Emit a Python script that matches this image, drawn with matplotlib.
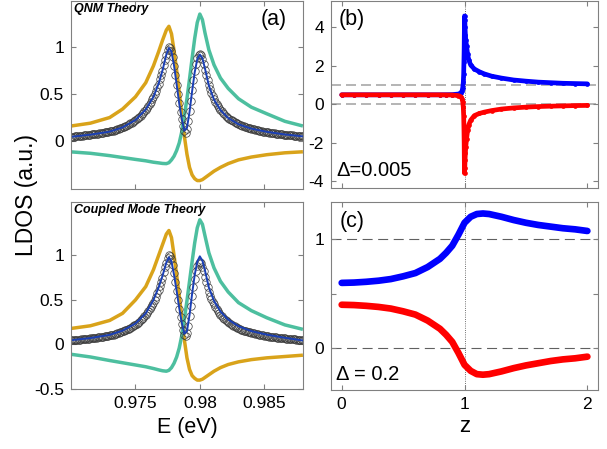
import matplotlib.pyplot as plt

plt.rcParams['font.family'] = ['Liberation Sans', 'DejaVu Sans']
plt.rcParams['axes.unicode_minus'] = False

# ---- panel (a): LDOS vs energy ----
E_line = [0.9700, 0.9715, 0.9730, 0.9740, 0.9750, 0.9758, 0.9764, 0.9768, 0.9771,
          0.9774, 0.9776, 0.9778, 0.9780, 0.9782, 0.9784, 0.9786, 0.9788, 0.9790,
          0.9792, 0.9794, 0.9796, 0.9798, 0.9800, 0.9802, 0.9804, 0.9807, 0.9811,
          0.9816, 0.9822, 0.9830, 0.9840, 0.9852, 0.9866, 0.9880]

# QNM theory
qnm_total = [0.045, 0.068, 0.100, 0.145, 0.224, 0.335, 0.47, 0.61, 0.75,
             0.92, 0.99, 0.95, 0.80, 0.60, 0.40, 0.23, 0.11, 0.14,
             0.31, 0.53, 0.73, 0.87, 0.92, 0.88, 0.77, 0.59, 0.44,
             0.33, 0.245, 0.178, 0.132, 0.098, 0.070, 0.050]
qnm_mode1 = [0.16, 0.19, 0.25, 0.34, 0.47, 0.62, 0.80, 0.95, 1.07,
             1.18, 1.22, 1.14, 0.96, 0.75, 0.52, 0.28, 0.05, -0.14,
             -0.28, -0.36, -0.40, -0.42, -0.42, -0.41, -0.39, -0.36, -0.32,
             -0.28, -0.24, -0.20, -0.17, -0.145, -0.125, -0.114]
qnm_mode2 = [-0.115, -0.13, -0.155, -0.175, -0.195, -0.21, -0.225, -0.232, -0.238,
             -0.24, -0.23, -0.20, -0.16, -0.10, -0.02, 0.10, 0.27, 0.45,
             0.66, 0.88, 1.09, 1.26, 1.35, 1.29, 1.15, 0.97, 0.81,
             0.67, 0.56, 0.45, 0.36, 0.29, 0.21, 0.16]

# coupled mode theory
cmt_total = [0.048, 0.072, 0.108, 0.155, 0.235, 0.35, 0.50, 0.64, 0.77,
             0.92, 0.98, 0.93, 0.78, 0.60, 0.41, 0.24, 0.12, 0.15,
             0.33, 0.57, 0.78, 0.93, 0.99, 0.94, 0.83, 0.64, 0.49,
             0.37, 0.28, 0.205, 0.150, 0.110, 0.075, 0.045]
cmt_mode1 = [0.18, 0.21, 0.27, 0.35, 0.50, 0.65, 0.84, 1.00, 1.12,
             1.24, 1.28, 1.20, 1.00, 0.78, 0.55, 0.30, 0.05, -0.15,
             -0.28, -0.35, -0.38, -0.40, -0.40, -0.39, -0.37, -0.34, -0.30,
             -0.26, -0.225, -0.195, -0.17, -0.15, -0.135, -0.12]
cmt_mode2 = [-0.11, -0.14, -0.18, -0.205, -0.23, -0.25, -0.27, -0.285, -0.295,
             -0.30, -0.29, -0.26, -0.21, -0.14, -0.04, 0.10, 0.29, 0.49,
             0.71, 0.93, 1.14, 1.31, 1.40, 1.35, 1.22, 1.03, 0.86,
             0.71, 0.59, 0.47, 0.38, 0.30, 0.22, 0.17]

# numerical reference (open circles)
E_num = [0.9700, 0.9701, 0.9702, 0.9703, 0.9704, 0.9705, 0.9706, 0.9707, 0.9708, 0.9709,
         0.9710, 0.9711, 0.9712, 0.9713, 0.9714, 0.9715, 0.9716, 0.9717, 0.9718, 0.9719,
         0.9720, 0.9721, 0.9722, 0.9723, 0.9724, 0.9725, 0.9726, 0.9727, 0.9728, 0.9729,
         0.9730, 0.9731, 0.9732, 0.9733, 0.9734, 0.9735, 0.9736, 0.9737, 0.9738, 0.9739,
         0.9740, 0.9741, 0.9742, 0.9743, 0.9744, 0.9745, 0.9746, 0.9747, 0.9748, 0.9749,
         0.9750, 0.9751, 0.9752, 0.9753, 0.9754, 0.9755, 0.9756, 0.9757, 0.9758, 0.9759,
         0.9760, 0.9761, 0.9762, 0.9763, 0.9764, 0.9765, 0.9766, 0.9767, 0.9768, 0.9769,
         0.9770, 0.9771, 0.9772, 0.9773, 0.9774, 0.9775, 0.9776, 0.9777, 0.9778, 0.9779,
         0.9780, 0.9781, 0.9782, 0.9783, 0.9784, 0.9785, 0.9786, 0.9787, 0.9788, 0.9789,
         0.9790, 0.9791, 0.9792, 0.9793, 0.9794, 0.9795, 0.9796, 0.9797, 0.9798, 0.9799,
         0.9800, 0.9801, 0.9802, 0.9803, 0.9804, 0.9805, 0.9806, 0.9807, 0.9808, 0.9809,
         0.9810, 0.9811, 0.9812, 0.9813, 0.9814, 0.9815, 0.9816, 0.9817, 0.9818, 0.9819,
         0.9820, 0.9821, 0.9822, 0.9823, 0.9824, 0.9825, 0.9826, 0.9827, 0.9828, 0.9829,
         0.9830, 0.9831, 0.9832, 0.9833, 0.9834, 0.9835, 0.9836, 0.9837, 0.9838, 0.9839,
         0.9840, 0.9841, 0.9842, 0.9843, 0.9844, 0.9845, 0.9846, 0.9847, 0.9848, 0.9849,
         0.9850, 0.9851, 0.9852, 0.9853, 0.9854, 0.9855, 0.9856, 0.9857, 0.9858, 0.9859,
         0.9860, 0.9861, 0.9862, 0.9863, 0.9864, 0.9865, 0.9866, 0.9867, 0.9868, 0.9869,
         0.9870, 0.9871, 0.9872, 0.9873, 0.9874, 0.9875, 0.9876, 0.9877, 0.9878, 0.9879,
         0.9880]
ldos_num = [0.045, 0.0465, 0.048, 0.0495, 0.051, 0.0525, 0.054, 0.0555, 0.057, 0.0585,
            0.060, 0.0615, 0.063, 0.0645, 0.066, 0.068, 0.070, 0.072, 0.074, 0.0755,
            0.077, 0.079, 0.081, 0.0835, 0.086, 0.0885, 0.091, 0.0935, 0.096, 0.099,
            0.102, 0.105, 0.108, 0.112, 0.116, 0.120, 0.125, 0.130, 0.135, 0.140,
            0.146, 0.152, 0.158, 0.165, 0.172, 0.179, 0.187, 0.195, 0.204, 0.214,
            0.224, 0.235, 0.246, 0.258, 0.271, 0.285, 0.300, 0.317, 0.335, 0.355,
            0.376, 0.398, 0.42, 0.445, 0.47, 0.50, 0.535, 0.575, 0.61, 0.655,
            0.70, 0.75, 0.81, 0.865, 0.92, 0.97, 1.00, 0.99, 0.955, 0.89,
            0.80, 0.70, 0.60, 0.50, 0.40, 0.31, 0.23, 0.16, 0.11, 0.09,
            0.13, 0.21, 0.32, 0.43, 0.54, 0.645, 0.74, 0.82, 0.88, 0.915,
            0.93, 0.915, 0.875, 0.82, 0.76, 0.70, 0.645, 0.595, 0.55, 0.513,
            0.48, 0.45, 0.42, 0.397, 0.375, 0.355, 0.335, 0.317, 0.30, 0.285,
            0.27, 0.26, 0.25, 0.239, 0.228, 0.219, 0.21, 0.202, 0.194, 0.187,
            0.18, 0.1735, 0.167, 0.162, 0.157, 0.1525, 0.148, 0.1435, 0.139, 0.135,
            0.131, 0.1275, 0.124, 0.1205, 0.117, 0.1135, 0.110, 0.107, 0.104, 0.1015,
            0.099, 0.0965, 0.094, 0.0915, 0.089, 0.087, 0.085, 0.083, 0.081, 0.079,
            0.077, 0.0755, 0.074, 0.0725, 0.071, 0.0695, 0.068, 0.0665, 0.065, 0.0635,
            0.062, 0.061, 0.060, 0.0585, 0.057, 0.056, 0.055, 0.0535, 0.052, 0.051,
            0.050]

# ---- panel (b): Delta = 0.005 ----
z_b = [0.0, 0.1, 0.2, 0.3, 0.4, 0.5, 0.6, 0.7, 0.8, 0.85, 0.9, 0.95, 0.97, 0.98,
       0.985, 0.99, 0.993, 0.995, 0.997, 0.998, 0.999, 1.0,
       1.002, 1.004, 1.007, 1.01, 1.016, 1.025, 1.035, 1.05, 1.08, 1.12, 1.16,
       1.22, 1.3, 1.4, 1.5, 1.6, 1.7, 1.8, 1.9, 2.0]
b_blue = [0.5, 0.5, 0.5, 0.5, 0.5, 0.5, 0.5, 0.5, 0.5, 0.505, 0.51, 0.54, 0.60, 0.70,
          0.85, 1.15, 1.6, 2.2, 2.9, 3.5, 4.1, 4.6,
          4.4, 4.0, 3.6, 3.35, 3.05, 2.6, 2.3, 2.05, 1.84, 1.70, 1.59,
          1.47, 1.37, 1.27, 1.21, 1.16, 1.13, 1.10, 1.085, 1.07]
b_red = [0.5, 0.5, 0.5, 0.5, 0.5, 0.5, 0.5, 0.5, 0.5, 0.495, 0.49, 0.46, 0.40, 0.30,
         0.15, -0.15, -0.6, -1.2, -2.0, -2.7, -3.3, -3.58,
         -3.3, -2.9, -2.5, -2.2, -1.8, -1.35, -1.05, -0.82, -0.58, -0.47, -0.40,
         -0.32, -0.24, -0.18, -0.14, -0.11, -0.09, -0.075, -0.06, -0.05]

# ---- panel (c): Delta = 0.2 ----
z_c = [0.0, 0.1, 0.2, 0.3, 0.4, 0.5, 0.6, 0.7, 0.8, 0.85, 0.9, 0.95, 1.0, 1.05,
       1.1, 1.15, 1.2, 1.3, 1.4, 1.5, 1.6, 1.7, 1.8, 1.9, 2.0]
c_blue = [0.600, 0.603, 0.610, 0.620, 0.635, 0.66, 0.69, 0.745, 0.82, 0.875, 0.94,
          1.04, 1.15, 1.205, 1.23, 1.235, 1.23, 1.205, 1.175, 1.15, 1.13, 1.115,
          1.10, 1.09, 1.075]
c_red = [0.40, 0.397, 0.39, 0.38, 0.365, 0.34, 0.31, 0.255, 0.18, 0.125, 0.06,
         -0.04, -0.15, -0.205, -0.235, -0.24, -0.235, -0.21, -0.18, -0.155, -0.135,
         -0.115, -0.10, -0.09, -0.075]

GOLD = '#d9a31a'
TEAL = '#4dbf9f'
DBLUE = '#1a3fb5'
SPINE = '#808080'

fig = plt.figure(figsize=(6.07, 4.49), dpi=100)
ax_a1 = fig.add_axes([0.117, 0.579, 0.382, 0.419])
ax_a2 = fig.add_axes([0.117, 0.1336, 0.382, 0.4165])
ax_b = fig.add_axes([0.5453, 0.581, 0.44, 0.4165])
ax_c = fig.add_axes([0.5453, 0.1314, 0.44, 0.4187])


def style(ax):
    for s in ax.spines.values():
        s.set_color(SPINE)
        s.set_linewidth(0.8)
    ax.tick_params(direction='in', length=3.5, width=0.8, color=SPINE,
                   top=True, right=True, labelsize=12.5, pad=5)


panels = [(ax_a1, qnm_total, qnm_mode1, qnm_mode2, 'QNM Theory'),
          (ax_a2, cmt_total, cmt_mode1, cmt_mode2, 'Coupled Mode Theory')]
for ax, tot, m1, m2, name in panels:
    style(ax)
    ax.plot(E_line, m1, color=GOLD, lw=2.5, solid_capstyle='butt')
    ax.plot(E_line, m2, color=TEAL, lw=2.5, solid_capstyle='butt')
    ax.plot(E_num, ldos_num, 'o', mfc='none', mec='#3c3c3c', ms=5.4, mew=0.5)
    ax.plot(E_line, tot, color=DBLUE, lw=1.4)
    ax.set_xlim(0.970, 0.988)
    ax.set_xticks([0.975, 0.98, 0.985])
    ax.text(0.012, 0.99, name, transform=ax.transAxes, ha='left', va='top',
            fontsize=9, fontweight='bold', fontstyle='italic')

ax_a1.set_ylim(-0.51, 1.49)
ax_a1.set_yticks([0, 0.5, 1])
ax_a1.set_yticklabels(['0', '0.5', '1'])
ax_a1.set_xticklabels([])
ax_a1.text(0.93, 0.90, '(a)', transform=ax_a1.transAxes, ha='right', va='center',
           fontsize=15.5)

ax_a2.set_ylim(-0.5, 1.6)
ax_a2.set_yticks([-0.5, 0, 0.5, 1])
ax_a2.set_yticklabels(['-0.5', '0', '0.5', '1'])
ax_a2.set_xticklabels(['0.975', '0.98', '0.985'])
ax_a2.set_xlabel('E (eV)', fontsize=15.5, labelpad=4)

fig.text(0.043, 0.566, 'LDOS (a.u.)', rotation=90, ha='center', va='center',
         fontsize=16.5)

# right column
for ax in (ax_b, ax_c):
    style(ax)
    ax.set_xlim(-0.087, 2.087)
    ax.set_xticks([0, 1, 2])
    ax.axvline(1, color='#404040', lw=0.6, ls=':', zorder=1)

ax_b.axhline(0, color='#a8a8a8', lw=1.2, ls=(0, (6, 3)), zorder=1)
ax_b.axhline(1, color='#a8a8a8', lw=1.2, ls=(0, (6, 3)), zorder=1)
ax_b.plot(z_b, b_blue, '-o', color='#0000ff', lw=3.4, ms=3.4, mew=0,
          solid_joinstyle='round', solid_capstyle='round')
ax_b.plot(z_b, b_red, '-o', color='#ff0000', lw=3.4, ms=3.4, mew=0,
          solid_joinstyle='round', solid_capstyle='round')
ax_b.set_ylim(-4.35, 5.37)
ax_b.set_yticks([-4, -2, 0, 2, 4])
ax_b.set_xticklabels([])
ax_b.text(0.03, 0.90, '(b)', transform=ax_b.transAxes, ha='left', va='center',
          fontsize=15.5)
ax_b.text(0.019, 0.096, '\u0394=0.005', transform=ax_b.transAxes, ha='left',
          va='center', fontsize=14.5)

ax_c.axhline(0, color='#606060', lw=0.8, ls=(0, (9, 5)), zorder=1)
ax_c.axhline(1, color='#606060', lw=0.8, ls=(0, (9, 5)), zorder=1)
ax_c.plot(z_c, c_blue, color='#0000ff', lw=4.8, solid_capstyle='round')
ax_c.plot(z_c, c_red, color='#ff0000', lw=4.8, solid_capstyle='round')
ax_c.set_ylim(-0.38, 1.34)
ax_c.set_yticks([0, 0.5, 1])
ax_c.set_yticklabels(['0', '', '1'])
ax_c.set_xticklabels(['0', '1', '2'])
ax_c.set_xlabel('z', fontsize=16, labelpad=3)
ax_c.text(0.033, 0.896, '(c)', transform=ax_c.transAxes, ha='left', va='center',
          fontsize=15.5)
ax_c.text(0.019, 0.08, '\u0394 = 0.2', transform=ax_c.transAxes, ha='left',
          va='center', fontsize=14.5)

fig.savefig('out.png', dpi=100)
